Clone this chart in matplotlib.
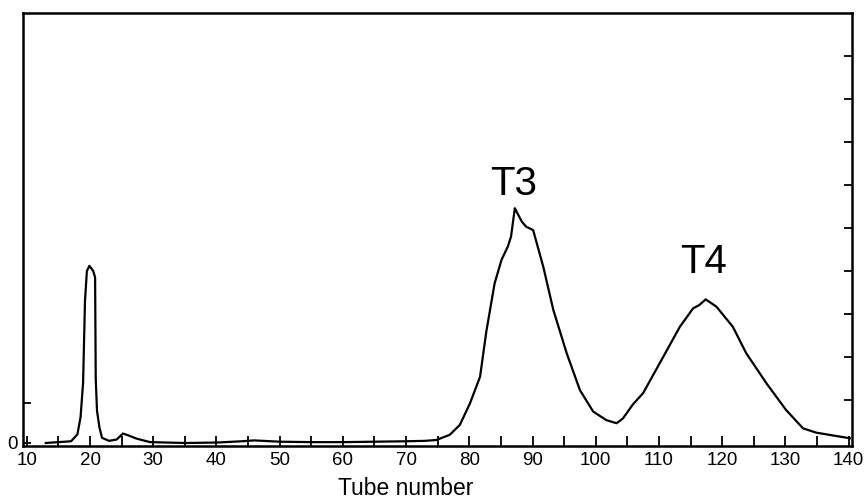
import matplotlib
matplotlib.use("Agg")
import matplotlib.pyplot as plt

plt.rcParams['font.family'] = ['Liberation Sans', 'DejaVu Sans']

tube = [13, 15, 17, 18, 18.5, 18.9, 19.2, 19.5, 19.9, 20.5, 20.8, 20.9, 21.1, 21.5, 21.9,
        23, 24.2, 25.2, 26, 27.4, 29.5, 35, 40, 44, 46, 50, 55, 60, 65, 70, 73,
        74.8, 76.9, 78.5, 80.1, 81.7, 82.7, 84.0, 85.1, 86.1, 86.6, 87.2, 88.3, 89.0, 90.1,
        91.7, 93.3, 95.4, 97.5, 99.6, 101.7, 103.3, 104.3, 105.9, 107.5, 110.1, 113.3,
        115.4, 116.4, 117.4, 119.1, 121.7, 123.8, 127.0, 130.1, 132.8, 134.9, 140.2]
absorb = [0.0, 0.02, 0.04, 0.2, 0.6, 1.4, 3.3, 4.0, 4.12, 4.0, 3.85, 1.5, 0.75, 0.35, 0.12,
          0.05, 0.08, 0.22, 0.18, 0.1, 0.02, 0.0, 0.01, 0.04, 0.06, 0.03, 0.02, 0.02, 0.03, 0.04, 0.05,
          0.07, 0.19, 0.42, 0.92, 1.54, 2.6, 3.71, 4.26, 4.57, 4.8, 5.46, 5.15, 5.03, 4.95,
          4.1, 3.09, 2.09, 1.23, 0.73, 0.53, 0.46, 0.57, 0.9, 1.16, 1.85, 2.7,
          3.13, 3.21, 3.34, 3.17, 2.7, 2.09, 1.39, 0.77, 0.34, 0.24, 0.11]

peak_labels = ["T3", "T4"]
label_x = [87.0, 117.0]
label_y = [5.77, 3.95]

xticks = list(range(10, 141, 10))
minor_xticks = list(range(15, 141, 10))

fig = plt.figure(figsize=(8.64, 5.0), dpi=100)
ax = fig.add_axes([0.0263, 0.108, 0.9595, 0.866])
ax.plot(tube, absorb, color='black', lw=1.6)
ax.set_xlim(9.35, 140.5)
ax.set_ylim(-0.07, 10.0)

for s in ax.spines.values():
    s.set_linewidth(1.8)

ax.set_xticks(xticks)
ax.set_xticklabels([str(t) for t in xticks], fontsize=13.5)
ax.set_xticks(minor_xticks, minor=True)
ax.tick_params(axis='x', which='both', direction='in', length=7, width=1.3, pad=4)
ax.set_yticks([0, 0.93])
ax.set_yticklabels(["0", ""], fontsize=13.5)
ax.tick_params(axis='y', direction='in', length=6, width=1.3, pad=3.5)

ax2 = ax.twinx()
ax2.set_ylim(ax.get_ylim())
ax2.set_yticks(list(range(1, 10)))
ax2.set_yticklabels([])
ax2.tick_params(axis='y', direction='in', length=6, width=1.3)
for s in ax2.spines.values():
    s.set_visible(False)

for lab, lx, ly in zip(peak_labels, label_x, label_y):
    ax.text(lx, ly, lab, fontsize=29, ha='center', va='baseline')

fig.text(406 / 864, 1 - 495 / 500, "Tube number", fontsize=16.5, ha='center', va='baseline')

fig.savefig("out.png", dpi=100)
